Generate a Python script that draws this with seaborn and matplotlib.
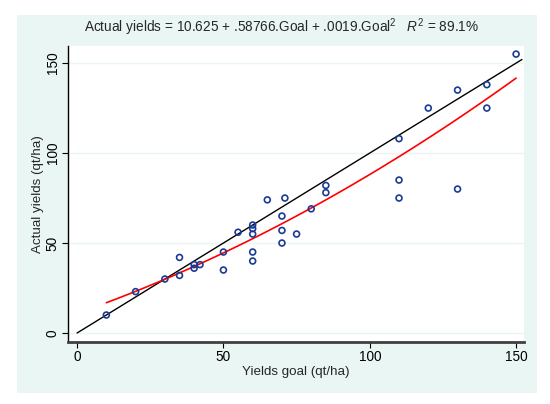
import numpy as np
import pandas as pd
import seaborn as sns
import matplotlib.pyplot as plt
from matplotlib.patches import Rectangle

# yields goal vs actual yields (qt/ha)
goal = [10, 20, 30, 35, 35, 40, 40, 42, 50, 50, 55,
        60, 60, 60, 60, 60, 65, 70, 70, 70, 71, 75, 80,
        85, 85, 110, 110, 110, 120, 130, 130, 140, 140, 150]
actual = [10, 23, 30, 42, 32, 38, 36, 38, 45, 35, 56,
          60, 58, 55, 45, 40, 74, 65, 57, 50, 75, 55, 69,
          82, 78, 108, 85, 75, 125, 135, 80, 138, 125, 155]
ref_line = [0, 152]  # 45 degree line, actual == goal
x_ticks = [0, 50, 100, 150]
y_ticks = [0, 50, 100, 150]

df = pd.DataFrame({"goal": goal, "actual": actual})

sns.set_theme(style="white")
plt.rcParams['font.family'] = ['Liberation Sans', 'DejaVu Sans']
plt.rcParams['mathtext.fontset'] = 'custom'
plt.rcParams['mathtext.rm'] = 'Liberation Sans'
plt.rcParams['mathtext.it'] = 'Liberation Sans:italic'

mint = "#eaf6f3"
fig = plt.figure(figsize=(5.5, 4.04), dpi=100)
fig.patch.set_facecolor("white")
fig.patches.append(Rectangle((17 / 550, 11 / 404), 520 / 550, 378 / 404,
                             transform=fig.transFigure, facecolor=mint,
                             edgecolor="none", zorder=-10))

ax = fig.add_axes([68 / 550, 62 / 404, 456 / 550, 296 / 404])
ax.set_facecolor("white")

for yv in y_ticks:
    ax.axhline(yv, color=mint, lw=1, zorder=0)

ax.plot(ref_line, ref_line, color="black", lw=1, zorder=2)
sns.regplot(data=df, x="goal", y="actual", order=2, ci=None, scatter=False,
            line_kws=dict(color="red", lw=1.2, zorder=3), ax=ax)
sns.scatterplot(data=df, x="goal", y="actual", marker="o", s=18,
                facecolor="none", edgecolor="#1a3a94", linewidth=1.2,
                zorder=4, ax=ax)

ax.set_xlim(-3.1, 152.7)
ax.set_ylim(-5, 159.5)
ax.set_xticks(x_ticks)
ax.set_yticks(y_ticks)
ax.tick_params(axis="both", direction="out", length=4, width=0.8,
               labelsize=9.8, colors="black", bottom=True, left=True, pad=2)
for lab in ax.get_yticklabels():
    lab.set_rotation(90)
    lab.set_va("center")

for s in ["top", "right"]:
    ax.spines[s].set_visible(False)
ax.spines["left"].set_color("black")
ax.spines["left"].set_linewidth(1)
ax.spines["bottom"].set_color("#404040")
ax.spines["bottom"].set_linewidth(2)

ax.set_xlabel("Yields goal (qt/ha)", fontsize=9.6, labelpad=1)
ax.set_ylabel("Actual yields (qt/ha)", fontsize=9.6, labelpad=1)

fig.text(0.512, 0.932,
         r"Actual yields = 10.625 + .58766.Goal + .0019.Goal$^2$   $\mathit{R}^2$ = 89.1%",
         ha="center", va="center", fontsize=9.8)

fig.savefig("out.png", dpi=100)
